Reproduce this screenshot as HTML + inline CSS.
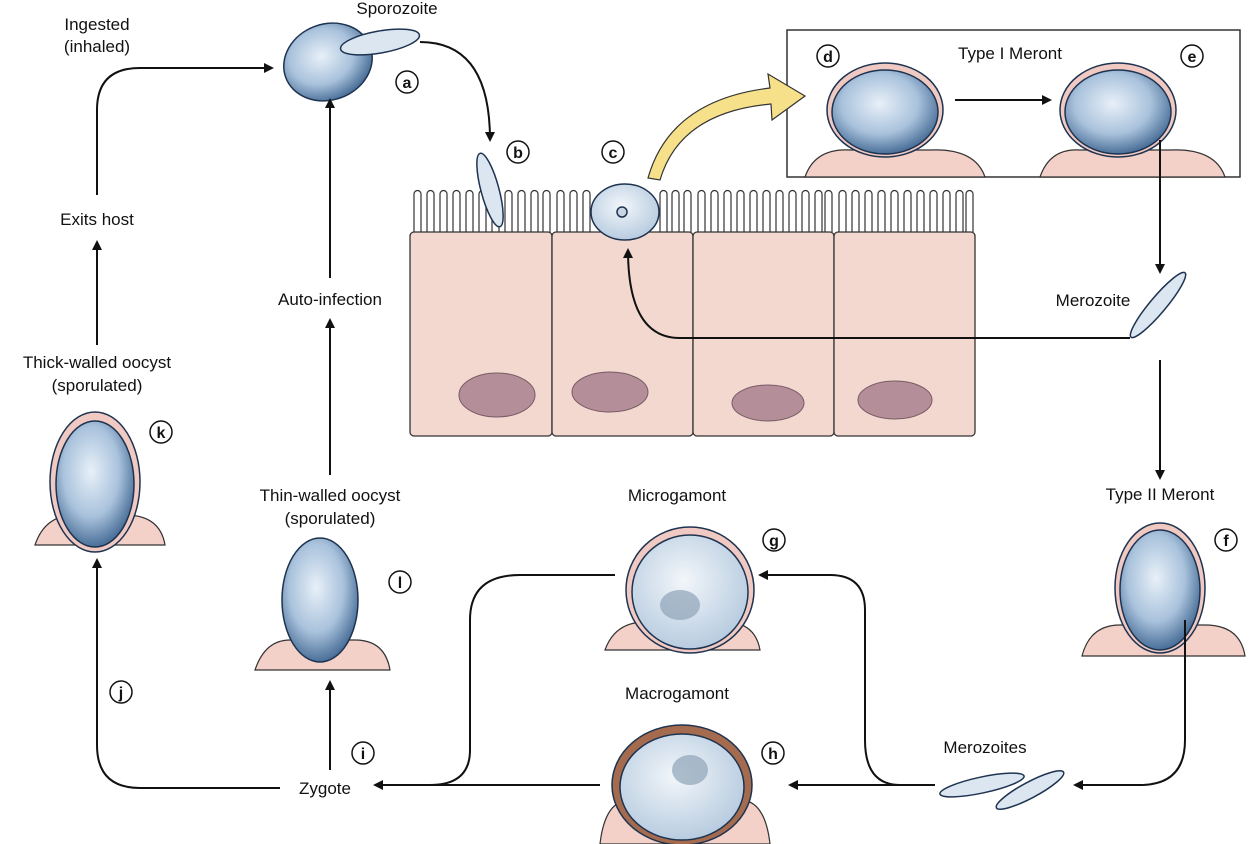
<!DOCTYPE html>
<html><head><meta charset="utf-8"><style>
body{margin:0;background:#fff}
svg{display:block}
text{font-family:"Liberation Sans",sans-serif;font-size:17px;fill:#111}
.c text{font-weight:bold;font-size:16px}
</style></head><body>
<svg width="1252" height="844" viewBox="0 0 1252 844" xmlns="http://www.w3.org/2000/svg">
<defs>
<marker id="ar" markerWidth="10" markerHeight="10" refX="8" refY="5" orient="auto" markerUnits="userSpaceOnUse"><path d="M0,0 L10,5 L0,10 z" fill="#111"/></marker>
<radialGradient id="bl" cx="45%" cy="40%" r="60%"><stop offset="0" stop-color="#e8f0f8"/><stop offset="0.6" stop-color="#a9c2dc"/><stop offset="1" stop-color="#4a6f98"/></radialGradient>
<radialGradient id="bl2" cx="45%" cy="40%" r="60%"><stop offset="0" stop-color="#f2f6fa"/><stop offset="1" stop-color="#b8cce0"/></radialGradient>
<path id="v" d="M0,42 V4 a3.5,3.5 0 0 1 7,0 V42" fill="#fff" stroke="#333" stroke-width="1.2"/>
</defs>
<!-- microvilli -->
<g transform="translate(0,190)">
<use href="#v" x="414"/><use href="#v" x="427"/><use href="#v" x="440"/><use href="#v" x="453"/><use href="#v" x="466"/><use href="#v" x="479"/><use href="#v" x="492"/><use href="#v" x="505"/><use href="#v" x="518"/><use href="#v" x="531"/><use href="#v" x="543"/>
<use href="#v" x="557"/><use href="#v" x="570"/><use href="#v" x="583"/><use href="#v" x="660"/><use href="#v" x="672"/><use href="#v" x="684"/>
<use href="#v" x="698"/><use href="#v" x="711"/><use href="#v" x="724"/><use href="#v" x="737"/><use href="#v" x="750"/><use href="#v" x="763"/><use href="#v" x="776"/><use href="#v" x="789"/><use href="#v" x="802"/><use href="#v" x="815"/><use href="#v" x="825"/>
<use href="#v" x="839"/><use href="#v" x="852"/><use href="#v" x="865"/><use href="#v" x="878"/><use href="#v" x="891"/><use href="#v" x="904"/><use href="#v" x="917"/><use href="#v" x="930"/><use href="#v" x="943"/><use href="#v" x="956"/><use href="#v" x="966"/>
</g>
<g stroke="#333" stroke-width="1.3" fill="#f3d8d0">
<rect x="410" y="232" width="142" height="204" rx="4"/>
<rect x="552" y="232" width="141" height="204" rx="4"/>
<rect x="693" y="232" width="141" height="204" rx="4"/>
<rect x="834" y="232" width="141" height="204" rx="4"/>
</g>
<g fill="#b48e98" stroke="#7a5a66" stroke-width="1">
<ellipse cx="497" cy="395" rx="38" ry="22"/><ellipse cx="610" cy="392" rx="38" ry="20"/>
<ellipse cx="768" cy="403" rx="36" ry="18"/><ellipse cx="895" cy="400" rx="37" ry="19"/>
</g>
<!-- box -->
<rect x="787" y="30" width="453" height="147" fill="#fff" stroke="#333" stroke-width="1.5"/>
<!-- organisms bases -->
<g fill="#f3d0c8" stroke="#333" stroke-width="1.2">
<path d="M805,177 Q815,148 850,150 H930 Q975,148 985,177 Z"/>
<path d="M1040,177 Q1050,148 1080,150 H1170 Q1215,148 1225,177 Z"/>
<path d="M35,545 Q45,515 75,515 H125 Q160,515 165,545 Z"/>
<path d="M255,670 Q265,640 290,640 H355 Q385,640 390,670 Z"/>
<path d="M605,650 Q615,622 645,622 H725 Q755,622 760,650 Z"/>
<path d="M1082,656 Q1090,625 1120,625 H1205 Q1240,625 1245,656 Z"/>
<path d="M600,844 Q605,800 630,800 H740 Q765,800 770,844 Z"/>
</g>
<!-- organisms -->
<g stroke="#1d3350" stroke-width="1.5">
<ellipse cx="885" cy="110" rx="58" ry="47" fill="#f0c9c2"/><ellipse cx="885" cy="112" rx="53" ry="42" fill="url(#bl)"/>
<ellipse cx="1118" cy="110" rx="58" ry="47" fill="#f0c9c2"/><ellipse cx="1118" cy="112" rx="53" ry="42" fill="url(#bl)"/>
<ellipse cx="95" cy="482" rx="45" ry="70" fill="#f0c9c2"/><ellipse cx="95" cy="484" rx="39" ry="63" fill="url(#bl)"/>
<ellipse cx="320" cy="600" rx="38" ry="62" fill="url(#bl)"/>
<ellipse cx="690" cy="590" rx="64" ry="63" fill="#f0c9c2"/><ellipse cx="690" cy="592" rx="58" ry="57" fill="url(#bl2)"/>
<ellipse cx="1160" cy="588" rx="45" ry="65" fill="#f0c9c2"/><ellipse cx="1160" cy="590" rx="40" ry="60" fill="url(#bl)"/>
<ellipse cx="682" cy="785" rx="70" ry="60" fill="#a56b4f"/><ellipse cx="682" cy="787" rx="62" ry="53" fill="url(#bl2)"/>
<ellipse cx="328" cy="62" rx="45" ry="38" fill="url(#bl)" transform="rotate(-20 328 62)"/>
<ellipse cx="380" cy="42" rx="40" ry="11" fill="#dbe6f1" transform="rotate(-10 380 42)"/>
<ellipse cx="625" cy="212" rx="34" ry="28" fill="url(#bl2)"/><circle cx="622" cy="212" r="5" fill="#c8d6e4"/>
<ellipse cx="490" cy="190" rx="9" ry="38" fill="#dbe6f1" transform="rotate(-15 490 190)"/>
<ellipse cx="1158" cy="305" rx="8" ry="42" fill="#dbe6f1" transform="rotate(40 1158 305)"/>
<ellipse cx="982" cy="785" rx="43" ry="8" fill="#dbe6f1" transform="rotate(-12 982 785)"/>
<ellipse cx="1030" cy="790" rx="38" ry="8" fill="#dbe6f1" transform="rotate(-28 1030 790)"/>
</g>
<g fill="#8fa4b8" opacity="0.7"><ellipse cx="680" cy="605" rx="20" ry="15"/><ellipse cx="690" cy="770" rx="18" ry="15"/></g>
<!-- yellow arrow -->
<path d="M648,178 Q670,100 770,88 L768,74 L805,96 L772,120 L771,104 Q680,112 660,180 Z" fill="#f6e08a" stroke="#333" stroke-width="1.2"/>
<!-- connectors -->
<g stroke="#111" stroke-width="2" fill="none" marker-end="url(#ar)">
<path d="M97,195 V110 Q97,68 140,68 H272"/>
<path d="M97,345 V242"/>
<path d="M330,278 V100"/>
<path d="M330,475 V320"/>
<path d="M420,42 Q490,42 490,140"/>
<path d="M955,100 H1050"/>
<path d="M1160,140 V272"/>
<path d="M1130,338 H680 Q628,338 628,250"/>
<path d="M1160,360 V478"/>
<path d="M1185,620 V740 Q1185,785 1140,785 H1075"/>
<path d="M925,785 H900 Q865,785 865,740 V610 Q865,575 830,575 H760"/>
<path d="M935,785 H790"/>
<path d="M600,785 H375"/>
<path d="M330,770 V682"/>
<path d="M280,788 H140 Q97,788 97,745 V560"/>
</g>
<path d="M615,575 H520 Q470,575 470,620 V750 Q470,785 430,785" stroke="#111" stroke-width="2" fill="none"/>
<!-- labels -->
<g text-anchor="middle">
<text x="97" y="30">Ingested</text><text x="97" y="52">(inhaled)</text>
<text x="397" y="14">Sporozoite</text>
<text x="97" y="225">Exits host</text>
<text x="330" y="305">Auto-infection</text>
<text x="97" y="368">Thick-walled oocyst</text><text x="97" y="391">(sporulated)</text>
<text x="330" y="501">Thin-walled oocyst</text><text x="330" y="524">(sporulated)</text>
<text x="1010" y="59">Type I Meront</text>
<text x="1093" y="306">Merozoite</text>
<text x="1160" y="500">Type II Meront</text>
<text x="677" y="501">Microgamont</text>
<text x="677" y="699">Macrogamont</text>
<text x="985" y="753">Merozoites</text>
<text x="325" y="794">Zygote</text>
</g>
<g class="c" text-anchor="middle" fill="#fff" stroke="#111" stroke-width="1.5">
<circle cx="407" cy="82" r="11"/><circle cx="518" cy="152" r="11"/><circle cx="613" cy="152" r="11"/>
<circle cx="828" cy="56" r="11"/><circle cx="1192" cy="56" r="11"/><circle cx="161" cy="432" r="11"/>
<circle cx="400" cy="582" r="11"/><circle cx="774" cy="540" r="11"/><circle cx="1226" cy="540" r="11"/>
<circle cx="121" cy="692" r="11"/><circle cx="363" cy="753" r="11"/><circle cx="773" cy="753" r="11"/>
</g>
<g class="c" text-anchor="middle">
<text x="407" y="88">a</text><text x="518" y="158">b</text><text x="613" y="158">c</text>
<text x="828" y="62">d</text><text x="1192" y="62">e</text><text x="161" y="438">k</text>
<text x="400" y="588">l</text><text x="774" y="546">g</text><text x="1226" y="546">f</text>
<text x="121" y="698">j</text><text x="363" y="759">i</text><text x="773" y="759">h</text>
</g>
</svg>
</body></html>
